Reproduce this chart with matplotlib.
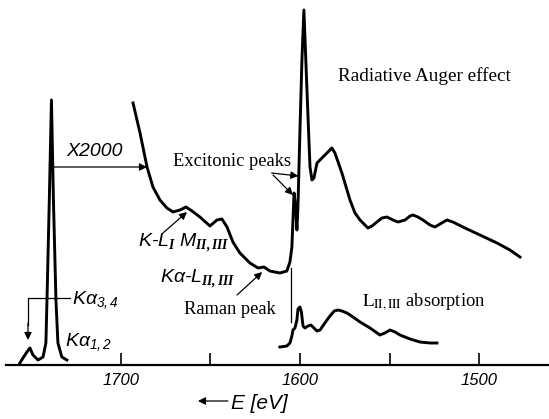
import matplotlib
matplotlib.use("Agg")
import matplotlib.pyplot as plt
from matplotlib import font_manager

# --- spectra (energy in eV, intensity in arbitrary units) ---
# K-alpha emission lines, true scale
e_kalpha = [1756.2, 1754.5, 1752.3, 1750.6, 1748.9, 1746.1, 1743.3, 1741.7,
            1741.1, 1739.8, 1738.6, 1737.5, 1736.1, 1735.0, 1732.8, 1730.0]
i_kalpha = [2, 7, 13, 17, 10, 5, 8, 22, 65, 165, 265, 165, 65, 22, 8, 5]

# low-energy satellite region, magnified x2000
e_sat = [1693.1, 1689.2, 1685.3, 1682.0, 1678.1, 1674.2, 1670.8, 1666.9, 1663.6,
         1660.2, 1655.8, 1650.2, 1646.3, 1643.5, 1640.7, 1637.4, 1633.5, 1627.9,
         1623.4, 1620.1, 1616.8, 1611.2, 1607.3, 1605.6, 1604.5, 1603.3, 1602.5,
         1601.7, 1601.1, 1600.0, 1598.9, 1597.8, 1596.1, 1594.4, 1593.3, 1592.2,
         1590.5, 1587.2, 1584.4, 1582.2, 1580.5, 1576.6, 1572.1, 1569.3, 1566.5,
         1562.1, 1559.8, 1557.1, 1554.3, 1551.5, 1548.1, 1545.3, 1541.4, 1538.6,
         1537.0, 1534.2, 1531.4, 1527.5, 1524.7, 1521.9, 1518.0, 1514.7, 1508.0,
         1499.6, 1490.1, 1482.9, 1477.3]
i_sat = [262, 232, 198, 178, 165, 157, 153, 155, 158,
         154, 148, 139, 145, 146, 138, 123, 112, 102,
         97, 98, 94, 92, 94, 103, 118, 172, 160,
         135, 160, 235, 305, 355, 275, 198, 185, 187,
         202, 208, 213, 217, 212, 192, 165, 152, 145,
         137, 139, 143, 147, 148, 145, 143, 145, 149,
         150, 148, 145, 140, 138, 141, 145, 143, 137,
         130, 122, 115, 108]

# L(II,III) absorption spectrum
e_abs = [1611.2, 1607.3, 1605.6, 1604.5, 1603.9, 1602.8, 1601.7, 1601.1, 1600.0,
         1599.2, 1598.3, 1597.2, 1595.5, 1593.9, 1592.2, 1590.5, 1588.8, 1586.5,
         1583.7, 1580.9, 1578.7, 1576.6, 1573.8, 1570.4, 1566.5, 1560.9, 1555.4,
         1552.6, 1549.8, 1547.0, 1544.2, 1538.6, 1533.1, 1527.5, 1523.6]
i_abs = [18, 19, 22, 29, 35, 37, 45, 56, 58,
         53, 39, 37, 39, 40, 37, 34, 35, 41,
         48, 54, 55, 54, 52, 48, 43, 37, 30,
         32, 35, 33, 30, 26, 23, 22, 22]

edge_energy = 1605.0
edge_span = (43, 97)

tick_values = [1700, 1650, 1600, 1550, 1500]
tick_labels = ["1700", "", "1600", "", "1500"]


def pick(families, fallback):
    for fam in families:
        try:
            font_manager.findfont(fam, fallback_to_default=False)
            return fam
        except Exception:
            pass
    return fallback


SANS = pick(["Liberation Sans"], "DejaVu Sans")
SERIF = pick(["Liberation Serif"], "DejaVu Serif")

plt.rcParams["mathtext.fontset"] = "custom"
plt.rcParams["mathtext.it"] = f"{SANS}:italic"
plt.rcParams["mathtext.rm"] = f"{SANS}:italic"
plt.rcParams["mathtext.bf"] = f"{SERIF}:bold:italic"

fig = plt.figure(figsize=(5.49, 4.19), dpi=100)
ax = fig.add_axes([0, 1 - 365 / 419, 1, 365 / 419])
ax.set_xlim(1767.3, 1461.1)
ax.set_ylim(0, 365)

LW = 2.1
ax.plot(e_kalpha, i_kalpha, color="black", lw=LW, solid_joinstyle="round")
ax.plot(e_sat, i_sat, color="black", lw=LW, solid_joinstyle="round")
ax.plot(e_abs, i_abs, color="black", lw=LW, solid_joinstyle="round")
ax.plot([edge_energy, edge_energy], edge_span, color="black", lw=0.9)

# axis styling
for side in ("top", "left", "right"):
    ax.spines[side].set_visible(False)
ax.spines["bottom"].set_linewidth(1.6)
ax.spines["bottom"].set_bounds(1764.0, 1461.1)
ax.set_yticks([])
ax.set_xticks(tick_values)
ax.set_xticklabels(tick_labels)
ax.tick_params(axis="x", direction="in", length=9, width=1.2, pad=6)
for lab in ax.get_xticklabels():
    lab.set_family(SANS)
    lab.set_style("italic")
    lab.set_fontsize(12)

ital = dict(family=SANS, style="italic", math_fontfamily="custom")
serif = dict(family=SERIF, math_fontfamily="stix")
arrow = dict(arrowstyle="-|>", color="black", lw=0.9, mutation_scale=11,
             shrinkA=0, shrinkB=0)

# magnification marker
ax.text(1714.3, 213, "X2000", fontsize=14, ha="center", va="center", **ital)
ax.annotate("", xy=(e_sat[2], i_sat[2]), xytext=(1737.8, 198), arrowprops=arrow)

# excitonic peaks
ax.text(1637.8, 203, "Excitonic peaks", fontsize=13.3, ha="center",
        va="center", **serif)
ax.annotate("", xy=(1600.9, 189), xytext=(1615.8, 192), arrowprops=arrow)
ax.annotate("", xy=(1603.9, 170), xytext=(1615.0, 190), arrowprops=arrow)

ax.text(1530.6, 289, "Radiative Auger effect", fontsize=13.8, ha="center",
        va="center", **serif)

# satellite labels
ax.text(1690.3, 122, r"$K$-$L_{\mathbf{I}}\ M_{\mathbf{II,III}}$", fontsize=14,
        ha="left", va="center", **ital)
ax.annotate("", xy=(1663.0, 153), xytext=(1676.4, 132), arrowprops=arrow)
ax.text(1678.1, 86, r"$K\alpha$-$L_{\mathbf{II,III}}$", fontsize=14,
        ha="left", va="center", **ital)
ax.text(1639.0, 55, "Raman peak", fontsize=13.3, ha="center", va="center",
        **serif)
ax.annotate("", xy=(1621.1, 93), xytext=(1635.1, 70), arrowprops=arrow)

# K-alpha line labels
ax.text(1727.2, 65, r"$K\alpha_{\mathit{3,4}}$", fontsize=14, ha="left",
        va="center", **ital)
ax.plot([1728.3, 1751.7, 1751.7], [67, 67, 40], color="black", lw=0.9)
ax.annotate("", xy=(1751.7, 25), xytext=(1751.7, 42), arrowprops=arrow)
ax.text(1731.1, 23, r"$K\alpha_{\mathit{1,2}}$", fontsize=14, ha="left",
        va="center", **ital)

ax.text(1565.4, 63, r"$\mathrm{L_{II,III}}$ absorption", fontsize=13.3,
        ha="left", va="center", **serif)

# energy axis caption
ax.annotate("", xy=(1656.9, -36), xytext=(1640.2, -36), arrowprops=arrow,
            annotation_clip=False)
ax.text(1638.5, -38, "E [eV]", fontsize=15, ha="left", va="center",
        clip_on=False, **ital)

fig.savefig("out.png", dpi=100, facecolor="white")
